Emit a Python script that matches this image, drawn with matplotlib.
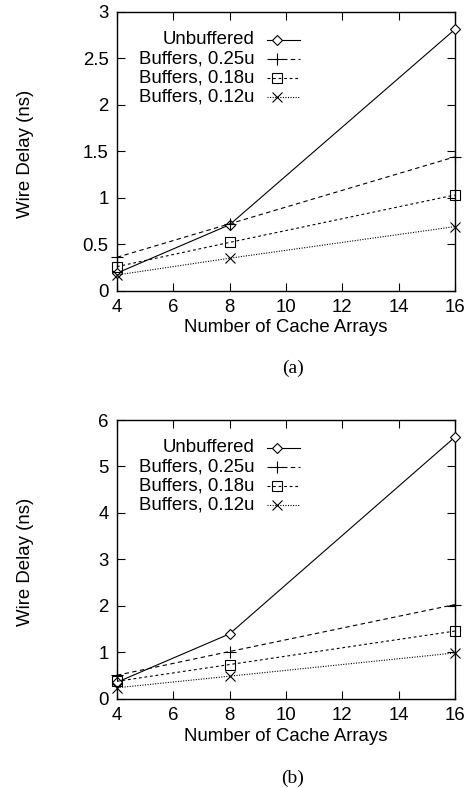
import matplotlib
matplotlib.use("Agg")
import matplotlib.pyplot as plt

plt.rcParams['font.family'] = ['Liberation Sans', 'DejaVu Sans']

cache_arrays = [4, 8, 16]
series_labels = ["Unbuffered", "Buffers, 0.25u", "Buffers, 0.18u", "Buffers, 0.12u"]

# (a) wire delay in ns
delay_a_unbuffered = [0.19, 0.71, 2.81]
delay_a_025 = [0.36, 0.72, 1.44]
delay_a_018 = [0.26, 0.52, 1.03]
delay_a_012 = [0.17, 0.35, 0.69]

# (b) wire delay in ns
delay_b_unbuffered = [0.36, 1.40, 5.63]
delay_b_025 = [0.51, 1.02, 2.03]
delay_b_018 = [0.38, 0.74, 1.46]
delay_b_012 = [0.24, 0.49, 0.99]

x_ticks = [4, 6, 8, 10, 12, 14, 16]
y_ticks_a = [0, 0.5, 1, 1.5, 2, 2.5, 3]
y_tick_labels_a = ["0", "0.5", "1", "1.5", "2", "2.5", "3"]
y_ticks_b = [0, 1, 2, 3, 4, 5, 6]

FS = 13.4

styles = [
    dict(linestyle='-', marker='D', markersize=5, mfc='white'),
    dict(linestyle=(0, (4, 3)), marker='+', markersize=8, mfc='none'),
    dict(linestyle=(0, (2.5, 2.5)), marker='s', markersize=7, mfc='none'),
    dict(linestyle=(0, (1, 1.3)), marker='x', markersize=6.5, mfc='none'),
]

fig = plt.figure(figsize=(4.66, 7.88), dpi=100)


def draw_panel(rect, series, yticks, yticklabels, ymax, caption, caption_y):
    ax = fig.add_axes(rect)
    for vals, st in zip(series, styles):
        ax.plot(cache_arrays, vals, color='black', lw=0.8, mec='black',
                mew=0.8, clip_on=False, zorder=3, **st)
    ax.set_xlim(4, 16)
    ax.set_ylim(0, ymax)
    ax.set_xticks(x_ticks)
    ax.set_yticks(yticks)
    ax.set_yticklabels(yticklabels)
    ax.tick_params(direction='in', length=6, width=0.8, top=True, right=True,
                   labelsize=FS)
    ax.tick_params(axis='x', pad=6)
    ax.tick_params(axis='y', pad=6)
    for s in ax.spines.values():
        s.set_linewidth(1.0)
    ax.set_xlabel("Number of Cache Arrays", fontsize=FS)
    ax.xaxis.set_label_coords(0.5, -0.133)
    ax.xaxis.label.set_va('center')
    ax.set_ylabel("Wire Delay (ns)", fontsize=FS)
    ax.yaxis.set_label_coords(-0.272, 0.49)
    ax.yaxis.label.set_va('center')

    # key: right-aligned labels with line samples
    ky0 = 0.90
    dy = 0.0683
    for i, (lab, st) in enumerate(zip(series_labels, styles)):
        y = ky0 - i * dy
        ax.text(0.408, y, lab, transform=ax.transAxes, ha='right', va='center',
                fontsize=FS)
        ax.plot([0.444, 0.541], [y, y], transform=ax.transAxes, color='black',
                lw=0.8, linestyle=st['linestyle'])
        ax.plot([0.473], [y], transform=ax.transAxes, color='black',
                marker=st['marker'], markersize=st['markersize'],
                mfc=st['mfc'], mec='black', mew=0.8, linestyle='none')
    fig.text(293 / 466, caption_y, caption, ha='center', va='center',
             fontsize=14, family=['Liberation Serif', 'DejaVu Serif'])
    return ax


draw_panel([0.251, 0.631, 0.725, 0.354],
           [delay_a_unbuffered, delay_a_025, delay_a_018, delay_a_012],
           y_ticks_a, y_tick_labels_a, 3, "(a)", 1 - 368 / 788)
draw_panel([0.251, 0.113, 0.725, 0.354],
           [delay_b_unbuffered, delay_b_025, delay_b_018, delay_b_012],
           y_ticks_b, [str(v) for v in y_ticks_b], 6, "(b)", 1 - 778 / 788)

fig.savefig("out.png", dpi=100)
